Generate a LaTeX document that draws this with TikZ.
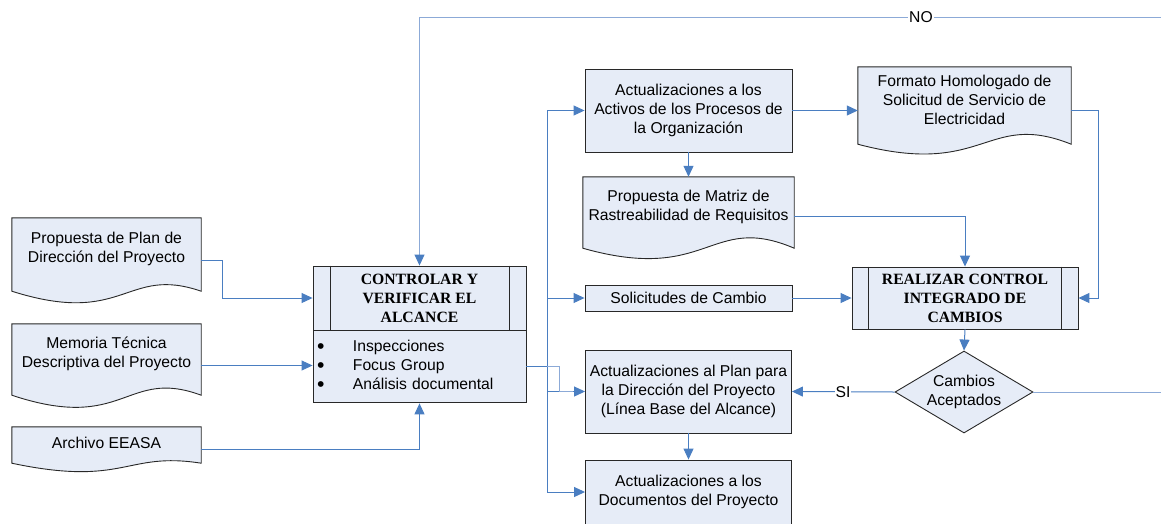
\documentclass[tikz,border=0pt]{standalone}
\usepackage{fontspec}
\usepackage{graphicx}
\setmainfont{Liberation Sans}
\newfontfamily\headfont{Liberation Serif}
\usetikzlibrary{arrows.meta,shapes.geometric,calc}
\pgfdeclarelayer{background}
\pgfsetlayers{background,main}

\definecolor{boxfill}{RGB}{230,236,247}
\definecolor{connblue}{RGB}{74,126,193}
\definecolor{connlight}{RGB}{140,170,215}
\definecolor{edgegray}{RGB}{40,40,40}

\tikzset{
  every node/.style={font=\fontsize{15.7}{19}\selectfont},
  box/.style={draw=edgegray, fill=boxfill, line width=0.9pt, inner sep=0pt, align=center},
  docnode/.style={inner sep=0pt, align=center},
  docline/.style={draw=edgegray, fill=boxfill, line width=0.9pt},
  procbox/.style={box, font=\headfont\bfseries\fontsize{15.7}{19}\selectfont},
  innerline/.style={draw=edgegray, line width=0.9pt},
  linkplain/.style={draw=connblue, line width=1pt},
  link/.style={linkplain, -{Triangle[length=11pt,width=10pt,color=connblue]}},
  tag/.style={fill=white, inner sep=1pt}
}

% list bullet, a little larger than the text bullet
\newcommand\bigdot{\raisebox{-1.8pt}{\scalebox{1.35}{\textbullet}}}

% document symbol: straight sides, wavy bottom edge
% #1 node, #2 extra side length below the node, #3 crest control, #4 trough control
\newcommand\docshape[4]{%
  \path[docline] let \p1=(#1.north west), \p2=(#1.south east) in
    (\x1,\y1) -- (\x2,\y1) -- (\x2,\y2-#2)
    .. controls ({\x1+0.6*(\x2-\x1)},\y2-#2+#3) and ({\x1+0.6*(\x2-\x1)},\y2-#2-#4) ..
    (\x1,\y2-#2) -- cycle;}

\begin{document}
\begin{tikzpicture}[x=1pt,y=-1pt]
\useasboundingbox (0,0) rectangle (1161,523);

% inputs
\node[docnode, minimum width=189pt, minimum height=61pt] (pplan) at (106.5,248.5)
  {Propuesta de Plan de\\Dirección del Proyecto};
\node[docnode, minimum width=189pt, minimum height=59pt] (memo) at (106.5,353.5)
  {Memoria Técnica\\Descriptiva del Proyecto};
\node[docnode, minimum width=189pt, minimum height=32pt] (arch) at (106.5,443)
  {Archivo EEASA};

% process
\node[procbox, minimum width=213pt, minimum height=64pt] (ctrl) at (419.5,298)
  {CONTROLAR Y\\VERIFICAR EL\\ALCANCE};
\node[box, minimum width=213pt, minimum height=72pt, text width=205pt, align=left, anchor=north]
  (ctrlb) at (ctrl.south)
  {\begin{tabular}{@{}l@{\hspace{28.5pt}}l@{}}
   \bigdot & Inspecciones\\
   \bigdot & Focus Group\\
   \bigdot & Análisis documental
   \end{tabular}};
\draw[innerline] ([xshift=18pt]ctrl.north west) -- ([xshift=18pt]ctrl.south west);
\draw[innerline] ([xshift=-17pt]ctrl.north east) -- ([xshift=-17pt]ctrl.south east);

% outputs
\node[box, minimum width=207pt, minimum height=83pt] (act) at (688.5,110.5)
  {Actualizaciones a los\\Activos de los Procesos de\\la Organización};
\node[docnode, minimum width=211pt, minimum height=59pt] (mat) at (688.5,206.5)
  {Propuesta de Matriz de\\Rastreabilidad de Requisitos};
\node[docnode, minimum width=213pt, minimum height=65pt] (fmt) at (964.5,99.5)
  {Formato Homologado de\\Solicitud de Servicio de\\Electricidad};
\node[box, minimum width=207pt, minimum height=26pt] (sol) at (688.5,298)
  {Solicitudes de Cambio};
\node[box, minimum width=206pt, minimum height=83pt] (plan) at (688.5,391.5)
  {Actualizaciones al Plan para\\la Dirección del Proyecto\\(Línea Base del Alcance)};
\node[box, minimum width=206pt, minimum height=64pt] (docs) at (688.5,492)
  {Actualizaciones a los\\Documentos del Proyecto};

% change control
\node[procbox, minimum width=226pt, minimum height=62pt] (real) at (965,298)
  {REALIZAR CONTROL\\INTEGRADO DE\\CAMBIOS};
\draw[innerline] ([xshift=17pt]real.north west) -- ([xshift=17pt]real.south west);
\draw[innerline] ([xshift=-17pt]real.north east) -- ([xshift=-17pt]real.south east);
\node[box, shape=diamond, aspect=1.68, minimum width=138pt, minimum height=82pt] (dec) at (964,392)
  {Cambios\\Aceptados};

% document outlines behind their texts
\begin{pgfonlayer}{background}
  \docshape{pplan}{12pt}{26pt}{36pt}
  \docshape{memo}{12pt}{28pt}{38pt}
  \docshape{arch}{4pt}{12pt}{24pt}
  \docshape{mat}{12pt}{36pt}{36pt}
  \docshape{fmt}{12pt}{34pt}{34pt}
\end{pgfonlayer}

% inputs to the process
\draw[link] ([yshift=-11.5pt]pplan.east) -- ++(21,0) |- (ctrl.west);
\draw[link] ([yshift=-12pt]memo.east) -- ([yshift=-12pt]memo.east -| ctrlb.west);
\draw[link] ([yshift=-6pt]arch.east) -| (ctrlb.south);

% process to outputs
\coordinate (split) at ($(ctrlb.east)+(21,0)$);
\draw[linkplain] (ctrlb.east) -- (split);
\draw[link] (split) |- (act.west);
\draw[link] (split) |- (sol.west);
\draw[link] (split) |- (plan.west);
\draw[link] (split) |- (docs.west);
\draw[linkplain, draw=connlight] (split) -- ++(12,0) |- ([xshift=-12pt]plan.west);

% outputs onwards
\draw[link] (act.east) -- (act.east -| fmt.west);
\draw[link] (act.south) -- (mat.north);
\draw[link] ([yshift=-9.5pt]mat.east) -| (real.north);
\draw[link] ([yshift=-11pt]fmt.east) -- ++(27,0) |- (real.east);
\draw[link] (sol.east) -- (real.west);
\draw[link] (real.south) -- (dec.north);
\draw[link] (plan.south) -- (docs.north);

% decision branches
\draw[link] (dec.west) -- (plan.east);
\node[tag] (si) at (843,392) {SI};
\coordinate (decout) at (1166,392);
\draw[linkplain, draw=connlight] (dec.east) -- (decout);

\coordinate (noin) at (1166,17);
\draw[link, draw=connlight] (noin) -- (noin -| ctrl.north) -- (ctrl.north);
\node[tag] (no) at (921,17) {NO};
\end{tikzpicture}
\end{document}
